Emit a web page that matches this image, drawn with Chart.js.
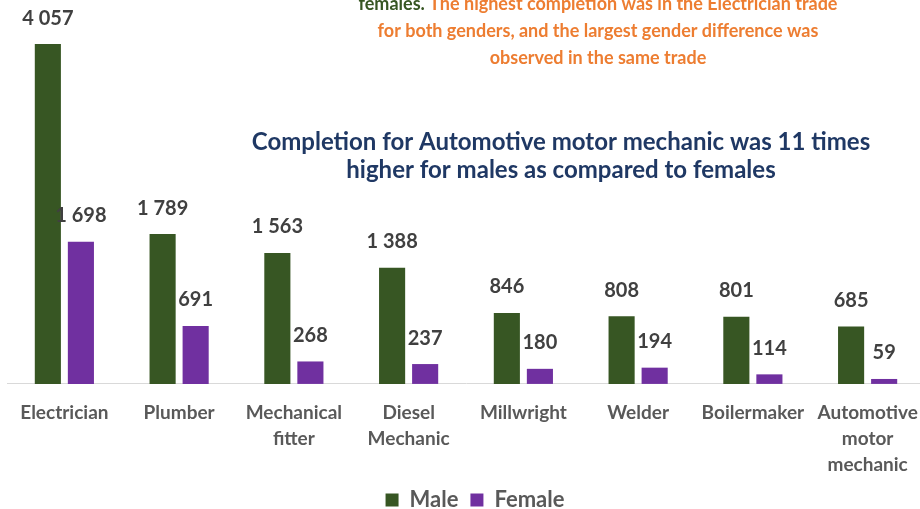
<!DOCTYPE html>
<html>
<head>
<meta charset="utf-8">
<script src="https://cdn.jsdelivr.net/npm/chart.js@4/dist/chart.umd.min.js"></script>
<style>
html,body{margin:0;padding:0;background:#fff;overflow:hidden;}
#wrap{width:920px;height:509px;position:relative;overflow:hidden;}
</style>
</head>
<body>
<div id="wrap"><canvas id="c" width="926" height="509"></canvas></div>
<script>
const categories = [
  ["Electrician"], ["Plumber"], ["Mechanical", "fitter"], ["Diesel", "Mechanic"],
  ["Millwright"], ["Welder"], ["Boilermaker"], ["Automotive", "motor", "mechanic"]
];
const maleValues = [4057, 1789, 1563, 1388, 846, 808, 801, 685];
const femaleValues = [1698, 691, 268, 237, 180, 194, 114, 59];
const seriesNames = ["Male", "Female"];

const topNoteLines = [
  [["females. ", "#375623"], ["The highest completion was in the Electrician trade", "#ED7D31"]],
  [["for both genders, and the largest gender difference was", "#ED7D31"]],
  [["observed in the same trade", "#ED7D31"]]
];
const midNoteLines = [
  "Completion for Automotive motor mechanic was 11 times",
  "higher for males as compared to females"
];

const FONT = "Lato";
function fmt(v){ return String(v).replace(/\B(?=(\d{3})+(?!\d))/g, " "); }

const labelPlugin = {
  id: "valueLabels",
  afterDatasetsDraw(chart){
    const ctx = chart.ctx;
    ctx.save();
    ctx.font = "bold 20px " + FONT;
    ctx.fillStyle = "#404040";
    ctx.textAlign = "center";
    ctx.textBaseline = "middle";
    chart.data.datasets.forEach((ds, di) => {
      const meta = chart.getDatasetMeta(di);
      meta.data.forEach((bar, i) => {
        ctx.fillText(fmt(ds.data[i]), bar.x, bar.y - 26);
      });
    });
    ctx.restore();
  }
};

const notePlugin = {
  id: "notes",
  afterDraw(chart){
    const ctx = chart.ctx;
    ctx.save();
    ctx.font = "bold 18px " + FONT;
    ctx.textBaseline = "middle";
    ctx.textAlign = "left";
    const cx1 = 598;
    topNoteLines.forEach((line, li) => {
      let total = 0;
      line.forEach(seg => total += ctx.measureText(seg[0]).width);
      let x = cx1 - total / 2;
      const y = 4 + li * 27;
      line.forEach(seg => {
        ctx.fillStyle = seg[1];
        ctx.fillText(seg[0], x, y);
        x += ctx.measureText(seg[0]).width;
      });
    });
    ctx.font = "bold 24px " + FONT;
    ctx.textAlign = "center";
    ctx.fillStyle = "#1F3864";
    midNoteLines.forEach((t, li) => {
      ctx.fillText(t, 561, 142 + li * 28);
    });
    ctx.restore();
  }
};

const legendShift = {
  id: "legendShift",
  afterLayout(chart){
    if (chart.legend) { chart.legend.left += 9; chart.legend.right += 9; }
  }
};

new Chart(document.getElementById("c"), {
  type: "bar",
  data: {
    labels: categories,
    datasets: [
      { label: seriesNames[0], data: maleValues, backgroundColor: "#375623", borderColor: "#375623",
        categoryPercentage: 0.576, barPercentage: 0.79 },
      { label: seriesNames[1], data: femaleValues, backgroundColor: "#7030A0", borderColor: "#7030A0",
        categoryPercentage: 0.576, barPercentage: 0.79 }
    ]
  },
  options: {
    responsive: false,
    animation: false,
    devicePixelRatio: 1,
    layout: { padding: { left: 7, right: 1, top: 0, bottom: -12 } },
    scales: {
      x: {
        grid: { display: false },
        border: { display: true, color: "#D9D9D9", width: 1 },
        ticks: { color: "#595959", font: { family: FONT, size: 19, weight: "bold", lineHeight: 1.37 },
                 maxRotation: 0, autoSkip: false, padding: 8 },
        afterFit(scale){ scale.height -= 9; }
      },
      y: {
        display: false, min: 0, max: 4583
      }
    },
    plugins: {
      legend: {
        position: "bottom",
        labels: { boxWidth: 13, boxHeight: 13, padding: 12, color: "#595959",
                  font: { family: FONT, size: 22, weight: "bold" } }
      },
      tooltip: { enabled: false }
    }
  },
  plugins: [labelPlugin, notePlugin, legendShift]
});
</script>
</body>
</html>
